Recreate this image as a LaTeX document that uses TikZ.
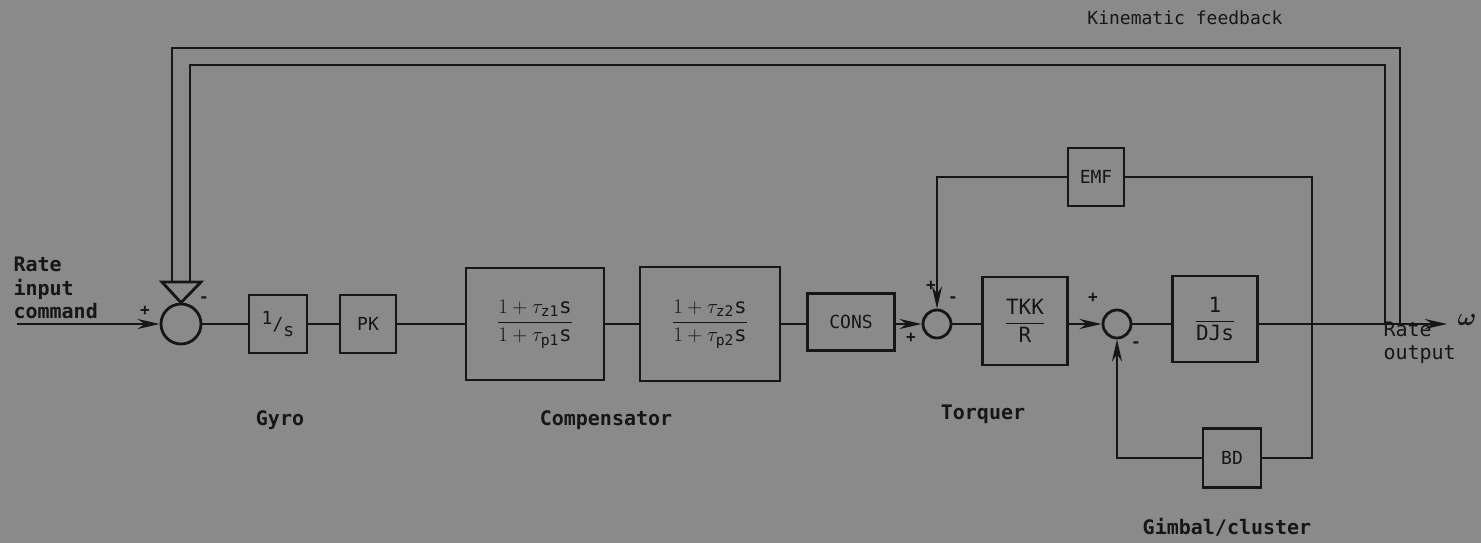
\documentclass[tikz,border=0pt]{standalone}
\usepackage{amsmath}
\usepackage{fontspec}
\setmonofont{DejaVu Sans Mono}
\usetikzlibrary{calc, arrows.meta}

\definecolor{paper}{RGB}{138,138,138}
\definecolor{ink}{RGB}{22,22,22}

\tikzset{
  wire/.style={draw=ink, line width=2.8pt},
  arr/.style={-{Stealth[length=22pt, width=10pt]}},
  blk/.style 2 args={draw=ink, line width=2.8pt, minimum width=#1, minimum height=#2,
    inner sep=0pt, text=ink, font=\ttfamily\fontsize{18}{20}\selectfont},
  sumpt/.style={circle, draw=ink, line width=2.8pt, minimum size=#1, inner sep=0pt},
  lbl/.style={text=ink, font=\ttfamily\bfseries\fontsize{20}{23.5}\selectfont},
  sgn/.style={text=ink, font=\ttfamily\bfseries\fontsize{16}{16}\selectfont}
}

\begin{document}
\begin{tikzpicture}[x=1pt, y=-1pt]
  \useasboundingbox (0,0) rectangle (1481,543);
  \fill[paper] (0,0) rectangle (1481,543);

  % summing junctions
  \node[sumpt=40pt] (s1) at (181,324) {};
  \node[sumpt=28pt] (s2) at (937,324) {};
  \node[sumpt=28pt] (s3) at (1117,324) {};

  % forward path
  \node[blk={58pt}{58pt}] (gyro) at (278,324) {\raisebox{6pt}{1}/\raisebox{-6pt}{s}};
  \node[blk={56pt}{58pt}] (pk) at (368,324) {PK};
  \node[blk={138pt}{112pt}, font=\fontsize{21}{23}\selectfont] (comp1) at (535,324)
    {$\dfrac{1+\tau_{\mathtt{z1}}\mathtt{s}}{1+\tau_{\mathtt{p1}}\mathtt{s}}$};
  \node[blk={140pt}{114pt}, font=\fontsize{21}{23}\selectfont] (comp2) at (710,324)
    {$\dfrac{1+\tau_{\mathtt{z2}}\mathtt{s}}{1+\tau_{\mathtt{p2}}\mathtt{s}}$};
  \node[blk={87pt}{57pt}] (cons) at (851,322) {CONS};
  \node[blk={85pt}{88pt}, font=\fontsize{21}{23}\selectfont] (tkk) at (1025,321)
    {$\dfrac{\mathtt{TKK}}{\mathtt{R}}$};
  \node[blk={85pt}{86pt}, font=\fontsize{21}{23}\selectfont] (dyn) at (1215,319)
    {$\dfrac{\mathtt{1}}{\mathtt{DJs}}$};

  % feedback blocks
  \node[blk={56pt}{58pt}] (emf) at (1096,177) {EMF};
  \node[blk={58pt}{59pt}] (bd) at (1232,458) {BD};

  % main line
  \coordinate (cmd) at (17,324);
  \coordinate (out) at (1447,324);
  \draw[wire, arr] (cmd) -- (s1.west);
  \draw[wire] (s1.east) -- (gyro.west);
  \draw[wire] (gyro.east) -- (pk.west);
  \draw[wire] (pk.east) -- (comp1.west);
  \draw[wire] (comp1.east) -- (comp2.west);
  \draw[wire] (comp2.east) -- (cons.west |- comp2.east);
  \draw[wire, arr] (cons.east |- s2.west) -- (s2.west);
  \draw[wire] (s2.east) -- (tkk.west |- s2.east);
  \draw[wire, arr] (tkk.east |- s3.west) -- (s3.west);
  \draw[wire] (s3.east) -- (dyn.west |- s3.east);
  \draw[wire, arr] (dyn.east |- out) -- (out);

  % back emf and damping loops
  \coordinate (jn) at (1312,324);
  \draw[wire] (jn) |- (emf.east);
  \draw[wire, arr] (emf.west) -| (s2.north);
  \draw[wire] (jn) |- (bd.east);
  \draw[wire, arr] (bd.west) -| (s3.south);

  % kinematic feedback (double line into hollow head)
  \coordinate (triL) at (162,282);
  \coordinate (triR) at (201,282);
  \coordinate (dblO) at (172,282);
  \coordinate (dblI) at (190,282);
  \coordinate (kinO) at (1400,324);
  \coordinate (kinI) at (1385,324);
  \draw[wire, line join=miter] (triL) -- (triR) -- (s1.north) -- cycle;
  \draw[wire] (kinO) -- (1400,48) -| (dblO);
  \draw[wire] (kinI) -- (1385,65) -| (dblI);

  % signs
  \node[sgn] at (145,311) {+};
  \node[sgn] at (204,300) {-};
  \node[sgn] at (911,338) {+};
  \node[sgn] at (931,286) {+};
  \node[sgn] at (953,300) {-};
  \node[sgn] at (1093,298) {+};
  \node[sgn] at (1136,345) {-};

  % texts
  \node[lbl, anchor=west, align=left] (inp) at (10,288) {Rate\\input\\command};
  \node[lbl, anchor=west, align=left, font=\ttfamily\fontsize{20}{23.5}\selectfont]
    (outp) at (1380,343) {Rate\\output};
  \node[lbl, font=\fontsize{24}{24}\selectfont] (w) at (1467,320) {$\boldsymbol{\omega}$};
  \node[lbl] (gyrotxt) at (280,420) {Gyro};
  \node[lbl] (comptxt) at (606,420) {Compensator};
  \node[lbl] (torqtxt) at (983,414) {Torquer};
  \node[lbl] (gimtxt) at (1227,527) {Gimbal/cluster};
  \node[lbl, font=\ttfamily\fontsize{18}{20}\selectfont] (kintxt) at (1185,18) {Kinematic feedback};
\end{tikzpicture}
\end{document}
